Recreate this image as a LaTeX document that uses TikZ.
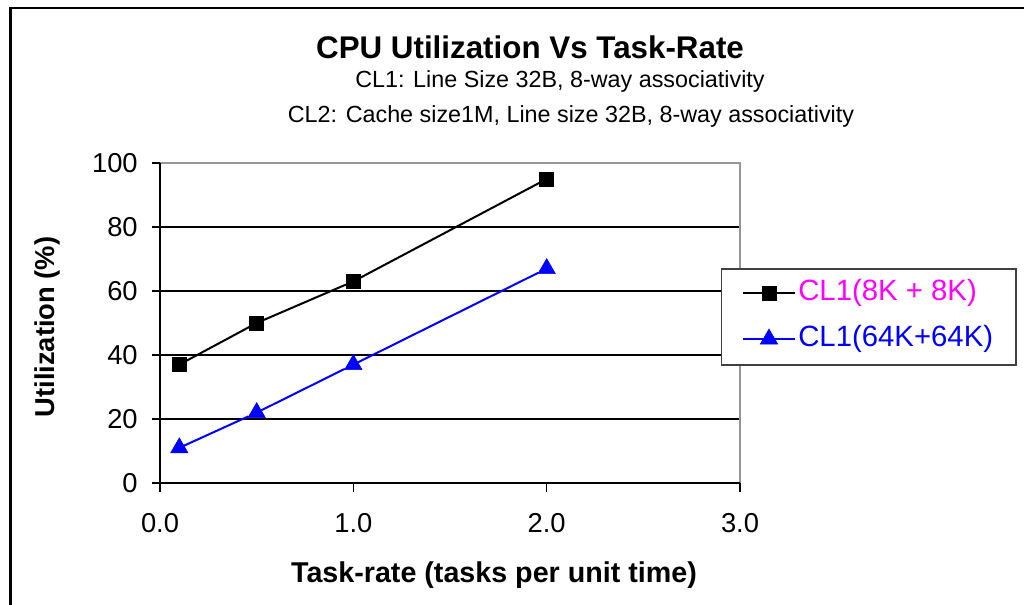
\documentclass[tikz,border=0pt]{standalone}
\usepackage{fontspec}
\setmainfont{Liberation Sans}
\usetikzlibrary{shapes.geometric}
\definecolor{plotgray}{RGB}{150,150,150}
\definecolor{legpink}{RGB}{255,0,255}
\tikzset{
  sqmark/.style={draw=black, fill=black, rectangle, inner sep=0pt, minimum size=10.5pt},
  trimark/.style={draw=blue, fill=blue, regular polygon, regular polygon sides=3, inner sep=0pt, minimum size=15pt},
  ticklabel/.style={font=\fontsize{20.5}{23}\selectfont},
  legtext/.style={font=\fontsize{22}{25}\selectfont, anchor=west, inner sep=0pt}
}
\begin{document}
\begin{tikzpicture}[x=0.75pt,y=-0.75pt]
        \useasboundingbox (0,0) rectangle (1024,604);
        \fill[white] (0,0) rectangle (1024,604);
        \draw[line width=2pt] (10.5,640) -- (10.5,8) -- (1060,8);
        % titles
        \node[font=\bfseries\fontsize{23.5}{26}\selectfont] (title) at (530,47) {CPU Utilization Vs Task-Rate};
        \node[font=\fontsize{17.5}{20}\selectfont] (sub1) at (560,81) {CL1: Line Size 32B, 8-way associativity};
        \node[font=\fontsize{17.5}{20}\selectfont] (sub2) at (571,116) {CL2: Cache size1M, Line size 32B, 8-way associativity};
        \node[font=\bfseries\fontsize{21.5}{24}\selectfont] (xtitle) at (494,575) {Task-rate (tasks per unit time)};
        \node[font=\bfseries\fontsize{20.5}{23}\selectfont, rotate=90] (ytitle) at (47,327) {Utilization (\%)};
        % plot area in data units
        \begin{scope}[shift={(160,483)}, x=145pt, y=2.4pt]
            \foreach \y in {20,40,60,80} \draw[line width=0.8pt] (0,\y) -- (3,\y);
            \draw[plotgray, line width=1.6pt] (0,100) -- (3,100) -- (3,0);
            \draw[line width=1.1pt] (3,0) -- (0,0) -- (0,100);
            \foreach \y in {0,20,...,100}
                \draw[line width=0.8pt] (0,\y) -- ++(-6pt,0) node[ticklabel, left=7pt] (yl\y) {\y};
            \foreach \x/\lab in {0/0.0,1/1.0,2/2.0,3/3.0}
                \draw[line width=0.8pt] (\x,0) -- ++(0,-7pt) ++(0,-23pt) node[ticklabel] (xl\x) {\lab};
            % CL1(8K + 8K)
            \node[sqmark] (a1) at (0.1,37) {};
            \node[sqmark] (a2) at (0.5,50) {};
            \node[sqmark] (a3) at (1.0,63) {};
            \node[sqmark] (a4) at (2.0,95) {};
            \draw[line width=1.5pt] (a1) -- (a2) -- (a3) -- (a4);
            % CL1(64K+64K)
            \node[trimark] (b1) at (0.1,11) {};
            \node[trimark] (b2) at (0.5,22) {};
            \node[trimark] (b3) at (1.0,37) {};
            \node[trimark] (b4) at (2.0,67) {};
            \draw[blue, line width=1.5pt] (b1) -- (b2) -- (b3) -- (b4);
        \end{scope}
        % legend
        \node[draw=black!75, line width=1pt, fill=white, minimum width=221pt, minimum height=72pt] (legend) at (868.5,317) {};
        \coordinate (la1) at (743,293);
        \coordinate (la2) at (795,293);
        \coordinate (lb1) at (743,339);
        \coordinate (lb2) at (795,339);
        \draw[line width=1.5pt] (la1) -- (la2);
        \node[sqmark] (lam) at (769,293) {};
        \draw[blue, line width=1.5pt] (lb1) -- (lb2);
        \node[trimark] (lbm) at (769,339) {};
        \node[legtext, text=legpink] (lat) at (798,293) {CL1(8K + 8K)};
        \node[legtext, text=blue] (lbt) at (798,339) {CL1(64K+64K)};
\end{tikzpicture}
\end{document}
